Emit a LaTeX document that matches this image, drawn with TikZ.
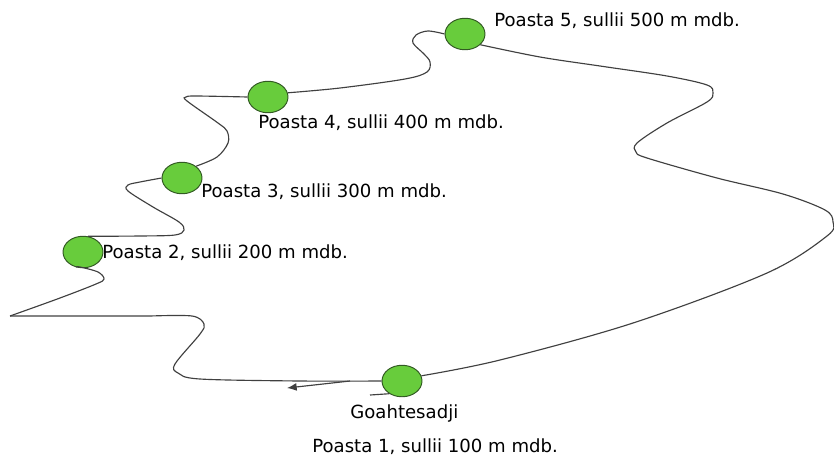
\documentclass[tikz,border=0pt]{standalone}
\usepackage{fontspec}
\setmainfont{DejaVu Sans}
\usetikzlibrary{shapes.geometric,arrows.meta}

\definecolor{postgreen}{RGB}{104,204,60}
\definecolor{postborder}{RGB}{50,90,35}

\tikzset{
    post/.style={ellipse, draw=postborder, fill=postgreen, line width=0.55pt,
        minimum width=0.8cm, minimum height=0.63cm, inner sep=0pt},
    postlabel/.style={anchor=west, inner sep=0pt, text=black,
        font=\fontsize{10.3}{12}\selectfont},
    route/.style={black!75, line width=0.65pt},
}

\begin{document}
\begin{tikzpicture}[x=0.02cm, y=-0.02cm]
    \useasboundingbox (0,0) rectangle (834,457);

    % The posts along the route
    \foreach \name/\x/\y in {p1/402/381, p2/83/252, p3/182/178, p4/268/97, p5/465/34} {
        \node[post] (\name) at (\x,\y) {};
    }

    % Post labels
    \foreach \i/\x/\y in {2/102/253, 3/201/192, 4/258/123, 5/494/21} {
        \node[postlabel] (l\i) at (\x,\y) {Poasta \i, sullii \i00 m mdb.};
    }
    \node[postlabel] (l1a) at (350,413) {Goahtesadji};
    \node[postlabel] (l1b) at (312,447) {Poasta 1, sullii 100 m mdb.};

    % Turning points of the route
    \coordinate (wturn) at (10,316);
    \coordinate (arrstart) at (350,381);
    \coordinate (arrtip) at (287,388);
    \coordinate (tail) at (370,395);

    % Route: Goahtesadji -> west turn -> post 2
    \draw[route] plot[smooth, tension=0.55] coordinates {(p1.west) (300,381) (200,379)
        (178,373) (175,364) (200,334) (204,324) (192,316) (150,316)} -- (wturn);
    \draw[route] plot[smooth, tension=0.55] coordinates {(wturn) (60,298) (96,284)
        (104,279) (98,272) (80,267) (p2.245)};

    % Post 2 -> post 3 -> post 4
    \draw[route] plot[smooth, tension=0.55] coordinates {(p2.72) (140,236) (175,235)
        (184,230) (179,222) (153,207) (128,191) (128,185) (140,182) (p3.west)};
    \draw[route] plot[smooth, tension=0.55] coordinates {(p3.40) (217,157) (228,143)
        (227,131) (218,123) (187,101) (186,97) (196,96) (p4.west)};

    % Post 4 -> post 5
    \draw[route] plot[smooth, tension=0.55] coordinates {(p4.12) (340,88) (405,79)
        (427,72) (430,62) (424,54) (413,43) (416,35) (428,31) (p5.west)};

    % Post 5 -> east bend -> back to Goahtesadji
    \draw[route] plot[smooth, tension=0.55] coordinates {(p5.-35) (540,57) (600,66)
        (667,76) (707,85) (713,93) (707,102) (667,123) (637,143) (636,152) (647,158)
        (717,178) (783,194) (825,210) (833,222) (827,236) (767,273) (633,323)
        (500,360) (p1.15)};

    % Direction arrow and small tail
    \draw[route, -{Latex[length=5.5pt, width=4.5pt]}] (arrstart) -- (arrtip);
    \draw[route] (tail) -- (p1.225);
\end{tikzpicture}
\end{document}
